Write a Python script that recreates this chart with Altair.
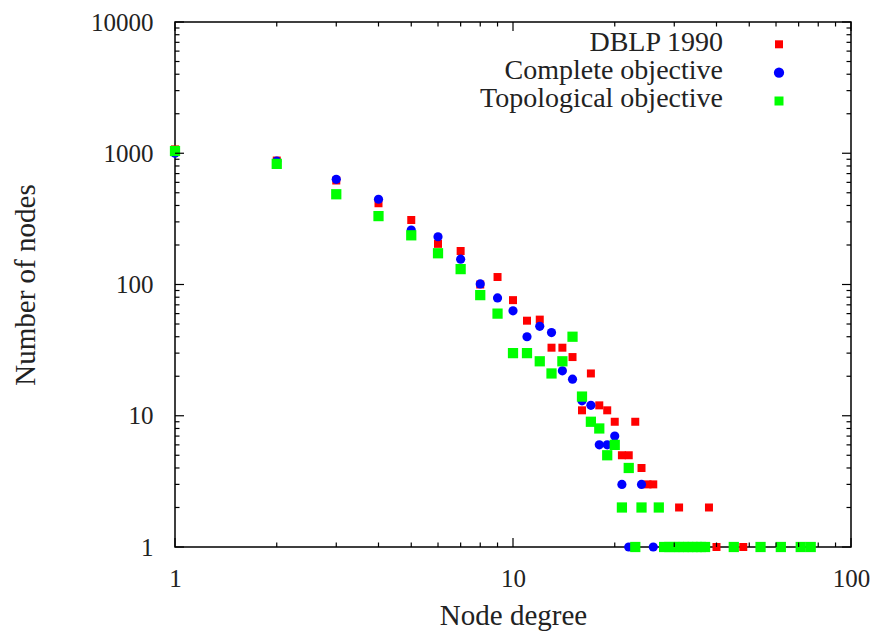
import altair as alt
import pandas as pd

# ---- data ----
series = ["DBLP 1990", "Complete objective", "Topological objective"]
colors = ["#ff0000", "#0000ff", "#00ff00"]

dblp_deg = [1, 2, 3, 4, 5, 6, 7, 8, 9, 10, 11, 12, 13, 14, 15, 16, 17, 18, 19, 20,
            21, 22, 23, 24, 25, 26, 31, 38, 40, 48]
dblp_cnt = [1070, 880, 620, 416, 310, 204, 180, 100, 114, 76, 53, 54, 33, 33, 28, 11, 21, 12, 11, 9,
            5, 5, 9, 4, 3, 3, 2, 2, 1, 1]

comp_deg = [1, 2, 3, 4, 5, 6, 7, 8, 9, 10, 11, 12, 13, 14, 15, 16, 17, 18, 19, 20,
            21, 22, 24, 26, 30, 34]
comp_cnt = [1000, 870, 633, 446, 260, 231, 156, 101, 79, 63, 40, 48, 43, 22, 19, 13, 12, 6, 6, 7,
            3, 1, 3, 1, 1, 1]

topo_deg = [1, 2, 3, 4, 5, 6, 7, 8, 9, 10, 11, 12, 13, 14, 15, 16, 17, 18, 19, 20,
            21, 22, 23, 24, 27, 28, 29, 30, 31, 32, 33, 34, 35, 36, 37, 45, 54, 62, 71, 76]
topo_cnt = [1040, 830, 487, 332, 237, 173, 131, 83, 60, 30, 30, 26, 21, 26, 40, 14, 9, 8, 5, 6,
            2, 4, 1, 2, 2, 1, 1, 1, 1, 1, 1, 1, 1, 1, 1, 1, 1, 1, 1, 1]

x_major = [1, 10, 100]
x_minor = [2, 3, 4, 5, 6, 7, 8, 9, 20, 30, 40, 50, 60, 70, 80, 90]
y_major = [1, 10, 100, 1000, 10000]
y_minor = [m * d for d in [1, 10, 100, 1000] for m in range(2, 10)]

# ---- layout constants ----
W, H = 676, 525
FONT = "Liberation Serif"
TXT = "#222222"
MAJ, MIN = 9, 4.5
SIZES = [64, 105, 81]
SHAPES = ["square", "circle", "square"]

rows = []
for name, degs, cnts in [(series[0], dblp_deg, dblp_cnt),
                         (series[1], comp_deg, comp_cnt),
                         (series[2], topo_deg, topo_cnt)]:
    for d, c in zip(degs, cnts):
        rows.append({"series": name, "deg": d, "cnt": c})
df = pd.DataFrame(rows)

xscale = alt.Scale(type="log", domain=[1, 100], nice=False)
yscale = alt.Scale(type="log", domain=[1, 10000], nice=False)

xaxis = alt.Axis(values=x_major, format="d", ticks=False, tickSize=0, domain=False, grid=False,
                 labelFlush=False, labelOverlap=False,
                 labelFont=FONT, labelFontSize=25, labelColor=TXT, labelPadding=19,
                 title="Node degree", titleFont=FONT, titleFontSize=29, titleFontWeight="normal",
                 titleColor=TXT, titleX=W / 2, titleY=68, titleBaseline="middle", titleAlign="center")
yaxis = alt.Axis(values=y_major, format="d", ticks=False, tickSize=0, domain=False, grid=False,
                 labelFlush=False, labelOverlap=False,
                 labelFont=FONT, labelFontSize=25, labelColor=TXT, labelPadding=22,
                 title="Number of nodes", titleFont=FONT, titleFontSize=29, titleFontWeight="normal",
                 titleColor=TXT, titleX=-150, titleY=H / 2, titleAngle=270,
                 titleBaseline="middle", titleAlign="center")

points = alt.Chart(df).mark_point(filled=True, opacity=1, strokeWidth=0).encode(
    x=alt.X("deg:Q", scale=xscale, axis=xaxis),
    y=alt.Y("cnt:Q", scale=yscale, axis=yaxis),
    color=alt.Color("series:N", scale=alt.Scale(domain=series, range=colors), legend=None),
    shape=alt.Shape("series:N", scale=alt.Scale(domain=series, range=SHAPES), legend=None),
    size=alt.Size("series:N", scale=alt.Scale(domain=series, range=SIZES), legend=None),
)


def xticks(vals, length):
    d = pd.DataFrame({"v": vals})
    base = alt.Chart(d).mark_rule(color="black", strokeWidth=1.2)
    bottom = base.encode(x=alt.X("v:Q", scale=xscale, axis=xaxis), y=alt.value(H), y2=alt.value(H - length))
    top = base.encode(x=alt.X("v:Q", scale=xscale, axis=xaxis), y=alt.value(0), y2=alt.value(length))
    return [bottom, top]


def yticks(vals, length):
    d = pd.DataFrame({"v": vals})
    base = alt.Chart(d).mark_rule(color="black", strokeWidth=1.2)
    left = base.encode(y=alt.Y("v:Q", scale=yscale, axis=yaxis), x=alt.value(0), x2=alt.value(length))
    right = base.encode(y=alt.Y("v:Q", scale=yscale, axis=yaxis), x=alt.value(W), x2=alt.value(W - length))
    return [left, right]


tick_layers = xticks(x_major, MAJ) + xticks(x_minor, MIN) + yticks(y_major, MAJ) + yticks(y_minor, MIN)

legend_layers = []
leg_text_y = [21, 49, 77]
leg_sym_y = [22.3, 50.7, 79]
for i, name in enumerate(series):
    ld = pd.DataFrame({"s": [name]})
    legend_layers.append(
        alt.Chart(ld).mark_text(align="right", baseline="middle", font=FONT, fontSize=28, color=TXT).encode(
            x=alt.value(548), y=alt.value(leg_text_y[i]), text="s:N")
    )
    legend_layers.append(
        alt.Chart(ld).mark_point(filled=True, opacity=1, strokeWidth=0, shape=SHAPES[i],
                                 size=SIZES[i], color=colors[i]).encode(
            x=alt.value(604), y=alt.value(leg_sym_y[i]))
    )

chart = alt.layer(points, *tick_layers, *legend_layers).properties(
    width=W, height=H,
    autosize=alt.AutoSizeParams(type="none"),
    padding={"left": 167, "top": 14, "right": 20, "bottom": 84},
    background="white",
).configure_view(stroke="black", strokeWidth=1.5)

chart.save("out.html", embed_options={"renderer": "svg", "actions": False})
